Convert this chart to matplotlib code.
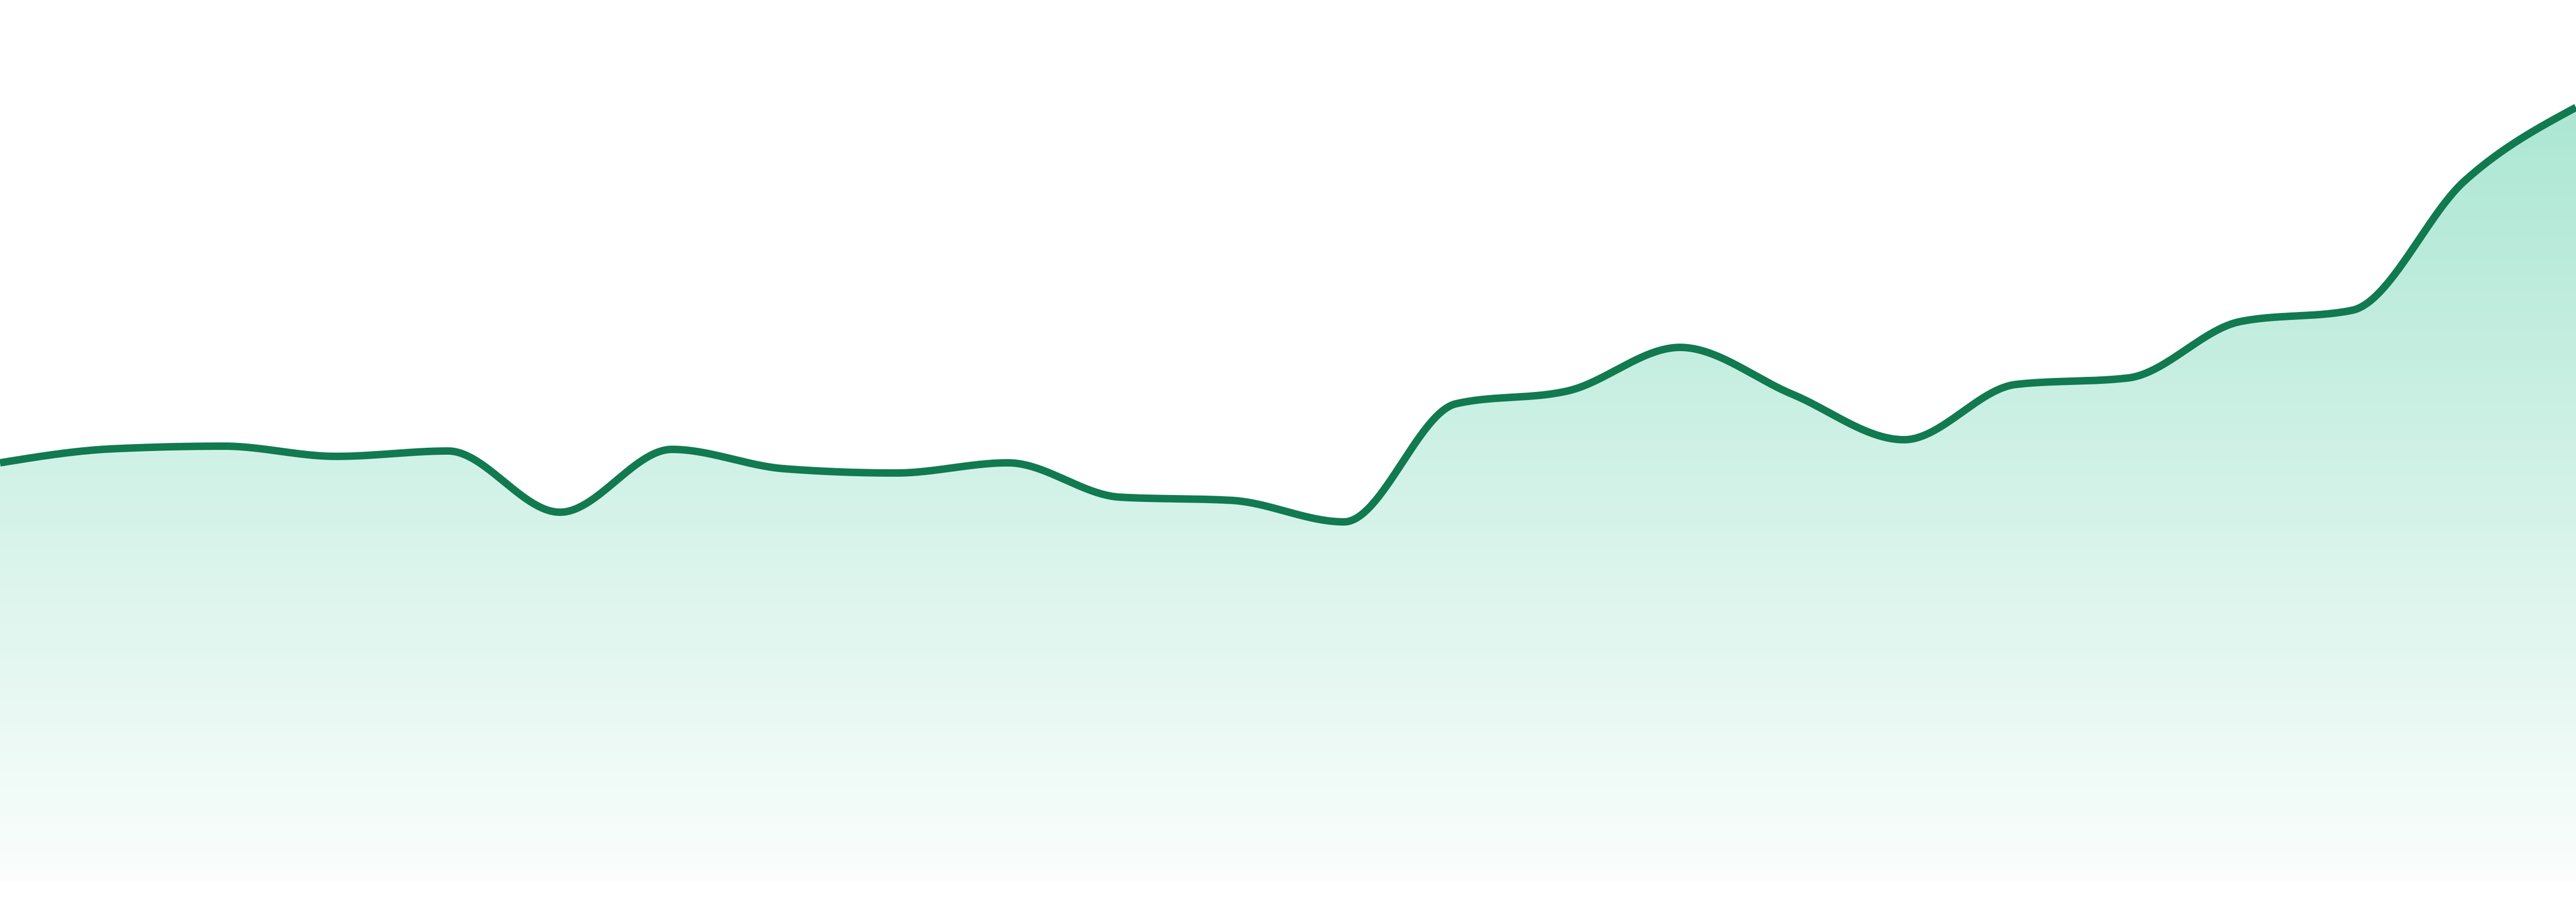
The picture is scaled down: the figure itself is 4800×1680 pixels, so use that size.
import numpy as np
import matplotlib
matplotlib.use('Agg')
import matplotlib.pyplot as plt
from matplotlib.patches import Polygon

# values, one per period
periods = list(range(24))
values = [77.8, 80.4, 80.9, 79.0, 80.0, 68.6, 80.3, 76.7, 75.9, 77.8, 71.4, 70.8,
          66.8, 88.8, 91.2, 99.3, 90.6, 82.1, 92.4, 93.6, 104.1, 106.2, 130.2, 144.0]

line_color = '#117a50'
fill_rgb = (16/255, 185/255, 129/255)


def monotone_x(xs, ys, steps=60):
    '''monotone cubic interpolation (same idea as d3 curveMonotoneX)'''
    xs = np.asarray(xs, float)
    ys = np.asarray(ys, float)
    n = len(xs)
    h = np.diff(xs)
    s = np.diff(ys) / h
    t = np.zeros(n)
    for i in range(1, n - 1):
        s0, s1 = s[i - 1], s[i]
        p = (s0 * h[i] + s1 * h[i - 1]) / (h[i - 1] + h[i])
        t[i] = (np.sign(s0) + np.sign(s1)) * min(abs(s0), abs(s1), 0.5 * abs(p))
    t[0] = (3 * s[0] - t[1]) / 2
    t[-1] = (3 * s[-1] - t[-2]) / 2
    px, py = [], []
    for i in range(n - 1):
        u = np.linspace(0, 1, steps, endpoint=(i == n - 2))
        h00 = 2*u**3 - 3*u**2 + 1
        h10 = u**3 - 2*u**2 + u
        h01 = -2*u**3 + 3*u**2
        h11 = u**3 - u**2
        px.append(xs[i] + u * h[i])
        py.append(h00*ys[i] + h10*h[i]*t[i] + h01*ys[i+1] + h11*h[i]*t[i+1])
    return np.concatenate(px), np.concatenate(py)


cx, cy = monotone_x(periods, values)

fig = plt.figure(figsize=(48, 16.8), dpi=100)
ax = fig.add_axes([0, 40/1680, 1, 1640/1680])
ymax = 164
ax.set_xlim(periods[0], periods[-1])
ax.set_ylim(0, ymax)
ax.axis('off')

# vertical gradient under the curve
top = max(values)
rows = 400
yy = np.linspace(ymax, 0, rows)
alpha = np.clip(0.02 + 0.33 * yy / top, 0, 0.36)
grad = np.zeros((rows, 2, 4))
grad[..., 0], grad[..., 1], grad[..., 2] = fill_rgb
grad[..., 3] = alpha[:, None]
img = ax.imshow(grad, extent=[periods[0], periods[-1], 0, ymax],
                aspect='auto', origin='upper', zorder=1)
poly = Polygon(np.column_stack([np.r_[cx, cx[-1], cx[0]], np.r_[cy, 0, 0]]),
               closed=True, facecolor='none', edgecolor='none')
ax.add_patch(poly)
img.set_clip_path(poly)

ax.plot(cx, cy, color=line_color, linewidth=10, solid_capstyle='butt', zorder=3)

fig.savefig('out.png', dpi=100)
